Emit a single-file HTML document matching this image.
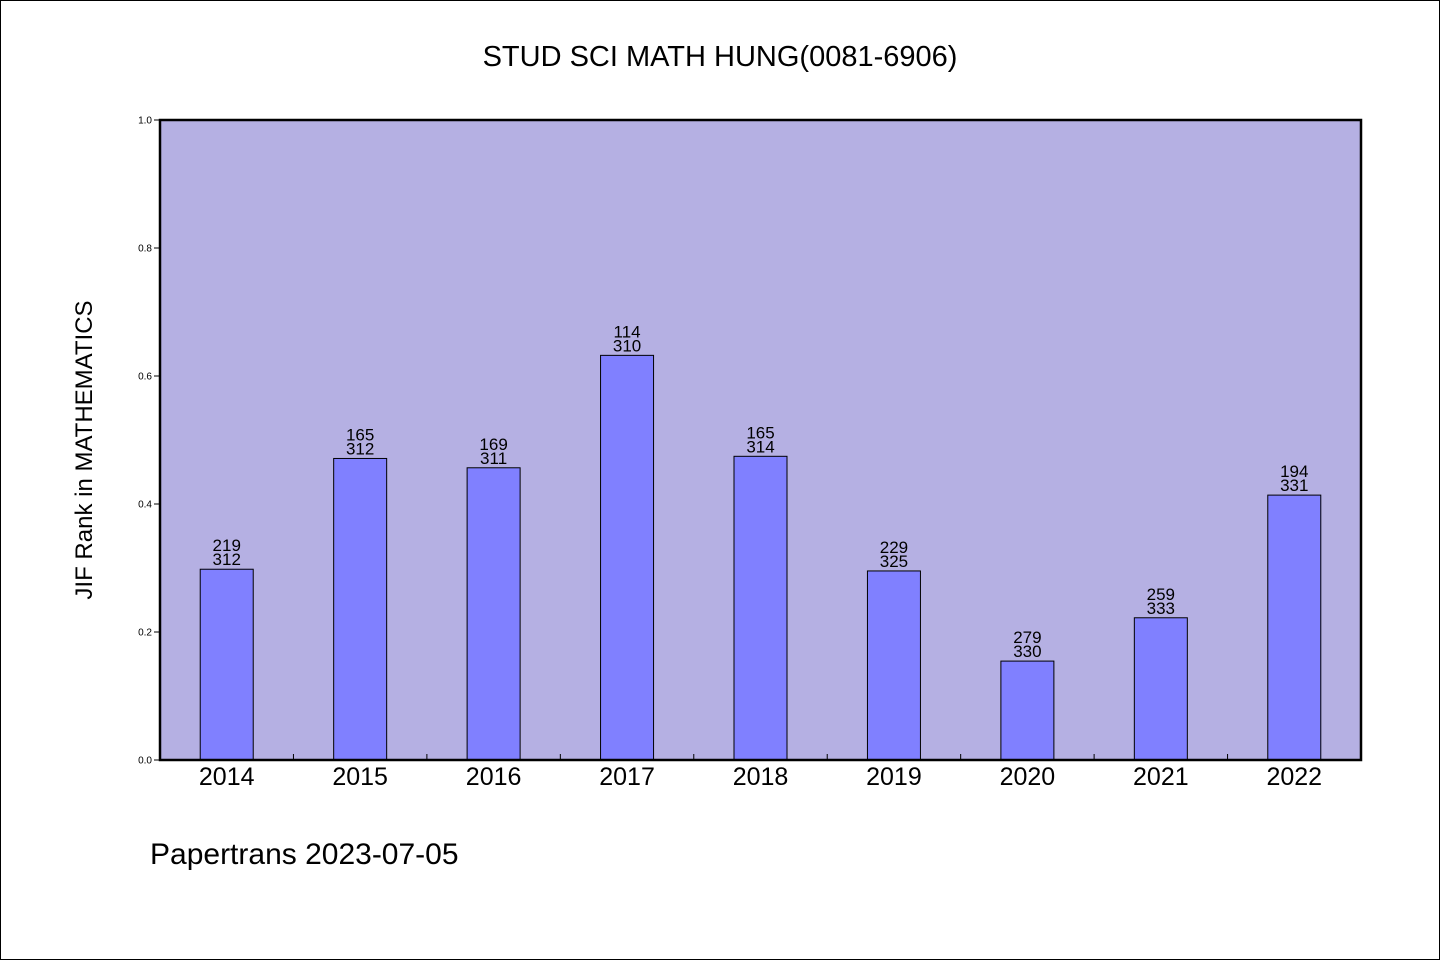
<!DOCTYPE html>
<html><head><meta charset="utf-8"><style>
html,body{margin:0;padding:0;background:#fff;}
svg{display:block;}
text{font-family:"WenQuanYi Zen Hei","Liberation Sans",sans-serif;fill:#000;}
</style></head><body>
<svg id="chart" width="1440" height="960" viewBox="0 0 1440 960">
<rect x="0.5" y="0.5" width="1439" height="959" fill="#fff" stroke="#000"/>
<text x="720" y="66" font-size="29" text-anchor="middle">STUD SCI MATH HUNG(0081-6906)</text>
<rect x="160" y="120" width="1201" height="640" fill="#b5b0e3"/>
<g id="marks"></g>
<rect x="160" y="120" width="1201" height="640" fill="none" stroke="#000" stroke-width="2.5"/>
<text transform="translate(92,450) rotate(-90)" font-size="24" text-anchor="middle">JIF Rank in MATHEMATICS</text>
<text x="150" y="864" font-size="30">Papertrans 2023-07-05</text>
</svg>
<script>
const years = ["2014","2015","2016","2017","2018","2019","2020","2021","2022"];
const ranks = [219,165,169,114,165,229,279,259,194];
const totals = [312,312,311,310,314,325,330,333,331];
const yTicks = ["0.0","0.2","0.4","0.6","0.8","1.0"];
const NS="http://www.w3.org/2000/svg";
const x0=160,x1=1361,yb=760,yt=120;
const step=(x1-x0)/years.length;
const xC=i=>x0+step*(i+0.5);
const yS=v=>yb-(yb-yt)*v;
const g=document.getElementById('marks');
function mk(tag,attrs,txt){const e=document.createElementNS(NS,tag);for(const k in attrs)e.setAttribute(k,attrs[k]);if(txt!==undefined)e.textContent=txt;g.appendChild(e);return e;}
yTicks.forEach(t=>{const y=yS(parseFloat(t));
 const l=mk('line',{x1:x0-6,x2:x0,y1:y,y2:y,stroke:'#000','stroke-width':1});
 
 
 const tx=mk('text',{x:x0-8,y:y+3.5,'font-size':10,'text-anchor':'end'},t);
 
 
});
for(let i=1;i<years.length;i++){const x=x0+step*i;
 const l=mk('line',{x1:x,x2:x,y1:yb-6,y2:yb,stroke:'#000','stroke-width':1});
 
 
}
years.forEach((yr,i)=>{
 const v=1-ranks[i]/totals[i];
 const w=53,x=xC(i)-w/2,y=yS(v);
 const b=mk('rect',{x:x,y:y,width:w,height:yb-y,fill:'#8080ff',stroke:'#000','stroke-width':1});
 
 
 const t1=mk('text',{x:xC(i),y:y-18,'font-size':17,'text-anchor':'middle'},String(ranks[i]));
 
 
 const t2=mk('text',{x:xC(i),y:y-4,'font-size':17,'text-anchor':'middle'},String(totals[i]));
 
 
 const xl=mk('text',{x:xC(i),y:785,'font-size':25,'text-anchor':'middle'},yr);
 
 
});
</script>
</body></html>
